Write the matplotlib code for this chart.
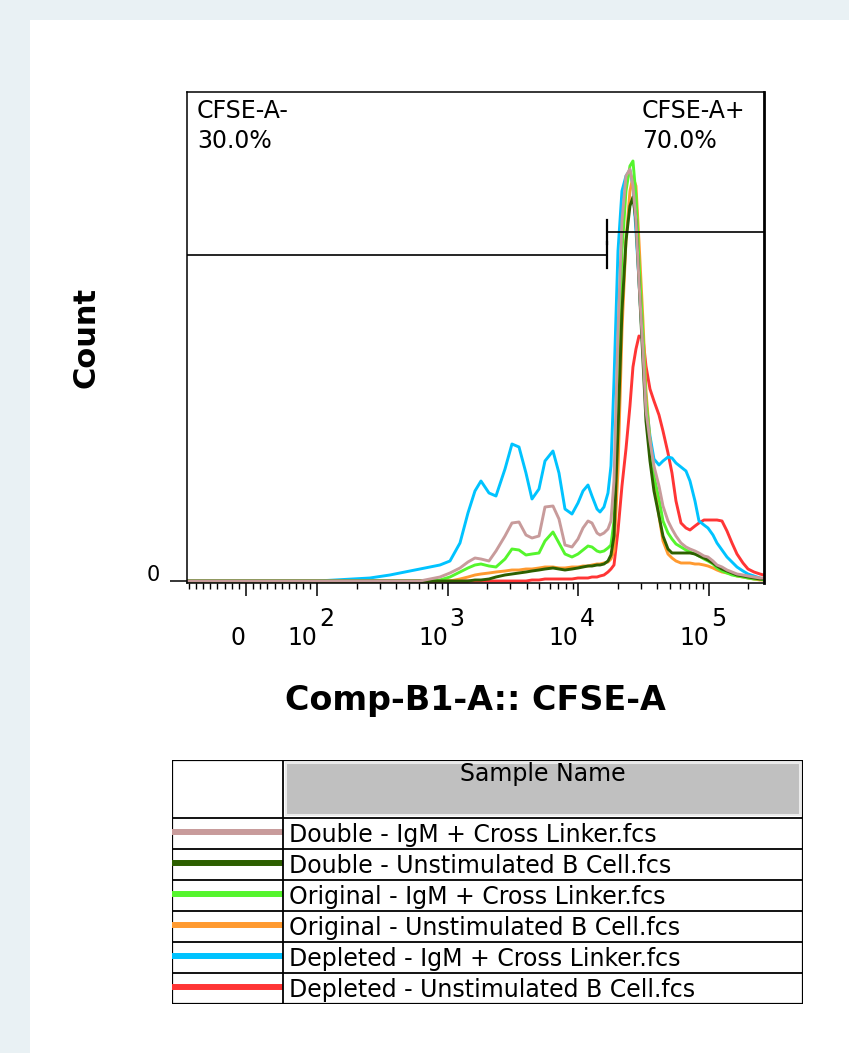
import numpy as np
import matplotlib.pyplot as plt
from matplotlib.patches import Rectangle
from matplotlib.transforms import blended_transform_factory

plt.rcParams['font.family'] = ['DejaVu Sans']

# CFSE-A channel values (bin centres) shared by all histograms
cfse = [-82.5, 0, 100, 252, 359, 511, 610, 728, 868, 1036, 1236, 1423, 1610, 1790,
        2062, 2333, 2735, 3093, 3501, 3960, 4403, 4982, 5538, 6377, 7089, 7881, 8918,
        9913, 10830, 11830, 12690, 13870, 14620, 15680, 16830, 17740, 18710, 20080,
        21540, 23120, 24800, 26150, 27580, 29080, 31210, 32900, 35310, 37890, 41400,
        44420, 48520, 52060, 55860, 61020, 66660, 71530, 78120, 83830, 91570, 98240,
        107300, 115200, 125800, 137400, 150100, 163900, 182200, 199100, 221200,
        245900, 262144]

double_igm = [0, 0, 0, 0, 0, 0, 0, 2, 4, 8, 13, 19, 23, 22, 20, 30, 45, 58, 59, 46,
              43, 45, 74, 75, 62, 36, 34, 42, 53, 60, 58, 48, 46, 48, 52, 60, 100, 250,
              360, 405, 412, 395, 360, 300, 230, 170, 140, 115, 95, 75, 60, 52, 45, 38,
              34, 32, 30, 28, 25, 24, 20, 16, 14, 11, 9, 7, 6, 5, 4, 3, 3]
double_unstim = [0, 0, 0, 0, 0, 0, 0, 0, 0, 0, 0, 0, 1, 1, 2, 4, 6, 7, 8, 9, 10, 11,
                 12, 13, 12, 11, 12, 13, 14, 15, 15, 16, 16, 17, 20, 26, 45, 150, 270,
                 340, 375, 384, 360, 300, 220, 160, 120, 90, 65, 45, 32, 28, 28, 28, 28,
                 28, 27, 25, 23, 21, 18, 15, 12, 10, 8, 6, 5, 4, 3, 2, 2]
original_igm = [0, 0, 0, 0, 0, 0, 0, 0, 1, 4, 9, 13, 16, 17, 15, 14, 22, 32, 31, 26,
                27, 28, 40, 49, 38, 27, 24, 27, 31, 35, 34, 30, 29, 30, 33, 36, 60, 200,
                330, 390, 415, 420, 385, 320, 245, 180, 140, 105, 82, 60, 48, 42, 37, 34,
                31, 29, 27, 25, 22, 20, 17, 13, 10, 8, 6, 5, 4, 3, 2, 2, 1]
original_unstim = [0, 0, 0, 0, 0, 0, 0, 0, 0, 0, 2, 4, 6, 7, 8, 9, 10, 11, 11, 12, 12,
                   13, 14, 14, 13, 13, 14, 14, 15, 15, 16, 17, 17, 18, 19, 22, 30, 110,
                   250, 340, 390, 404, 395, 340, 260, 190, 140, 100, 65, 40, 27, 23, 20,
                   18, 18, 18, 17, 17, 16, 15, 13, 11, 9, 8, 7, 5, 4, 3, 2, 1, 1]
depleted_igm = [0, 0, 0, 3, 6, 10, 12, 14, 16, 20, 38, 68, 90, 100, 88, 85, 112, 137,
                134, 108, 82, 92, 120, 130, 108, 72, 67, 78, 90, 96, 85, 72, 69, 74, 88,
                115, 200, 330, 390, 405, 411, 395, 350, 300, 230, 180, 145, 122, 116,
                120, 124, 123, 118, 114, 110, 100, 80, 60, 56, 53, 46, 38, 31, 24, 19,
                14, 10, 7, 5, 3, 2]
depleted_unstim = [0, 0, 0, 0, 0, 0, 0, 0, 0, 0, 0, 0, 0, 0, 0, 0, 0, 0, 0, 0, 1, 1, 2,
                   2, 2, 2, 2, 3, 3, 3, 4, 4, 5, 6, 9, 12, 16, 50, 95, 132, 175, 214,
                   232, 245, 243, 215, 192, 180, 166, 150, 128, 108, 80, 58, 53, 51, 55,
                   58, 61, 61, 61, 61, 60, 50, 38, 27, 18, 12, 9, 7, 6]

samples = ["Double - IgM + Cross Linker.fcs", "Double - Unstimulated B Cell.fcs",
           "Original - IgM + Cross Linker.fcs", "Original - Unstimulated B Cell.fcs",
           "Depleted - IgM + Cross Linker.fcs", "Depleted - Unstimulated B Cell.fcs"]
series = [double_igm, double_unstim, original_igm, original_unstim,
          depleted_igm, depleted_unstim]
colors = ['#c89b9b', '#2d5f00', '#55f52d', '#ff9a30', '#00c3ff', '#ff3535']

# gates
gate_split = 16540
neg_level, pos_level = 326, 349
neg_label, neg_pct = "CFSE-A-", "30.0%"
pos_label, pos_pct = "CFSE-A+", "70.0%"

x_min, x_max = -82.5, 262144

W, H = 849, 1053
fig = plt.figure(figsize=(W / 100, H / 100), dpi=100, facecolor='#e9f1f4')
fig.patches.append(Rectangle((30 / W, 0), 1, 1 - 20 / H, transform=fig.transFigure,
                             facecolor='white', edgecolor='none', zorder=-10))

ax = fig.add_axes([187 / W, 1 - 583 / H, 576.6 / W, 491 / H])
ax.set_xscale('symlog', linthresh=100, linscale=0.493)
ax.set_xlim(x_min, x_max)
ax.set_ylim(-2, 489)

for y, c in reversed(list(zip(series, colors))):
    ax.plot(cfse, y, color=c, lw=2.1)

# gate bars
ax.plot([x_min, gate_split], [neg_level, neg_level], color='black', lw=1.2, zorder=5)
ax.plot([gate_split, gate_split], [neg_level - 13, neg_level + 13], color='black', lw=1.6, zorder=5)
ax.plot([gate_split, x_max], [pos_level, pos_level], color='black', lw=1.2, zorder=5)
ax.plot([gate_split, gate_split], [pos_level - 12, pos_level + 12], color='black', lw=1.6, zorder=5)

ax.text(0.017, 0.947, neg_label, transform=ax.transAxes, fontsize=17, va='baseline')
ax.text(0.017, 0.886, neg_pct, transform=ax.transAxes, fontsize=17, va='baseline')
ax.text(0.789, 0.947, pos_label, transform=ax.transAxes, fontsize=17, va='baseline')
ax.text(0.789, 0.886, pos_pct, transform=ax.transAxes, fontsize=17, va='baseline')

# axes styling
for s in ax.spines.values():
    s.set_linewidth(1.1)
ax.spines['right'].set_linewidth(2.0)

major = [0, 1e2, 1e3, 1e4, 1e5]
ax.set_xticks(major, labels=['0', '10', '10', '10', '10'])
minor = [-m for m in range(10, 90, 10)] + list(range(10, 100, 10))
for dec in [1e2, 1e3, 1e4]:
    minor += [k * dec for k in range(2, 10)]
minor += [2e5]
ax.set_xticks(minor, minor=True)
ax.tick_params(axis='x', which='major', length=9.4, width=1.1, pad=35.3, labelsize=17)
ax.tick_params(axis='x', which='minor', length=4.3, width=1.0)
for lbl in ax.get_xticklabels():
    lbl.set_ha('right')
    lbl.set_va('baseline')

trans = blended_transform_factory(ax.transData, ax.transAxes)
for v, e in zip(major[1:], ['2', '3', '4', '5']):
    ax.text(v * 1.03, -0.0876, e, transform=trans, fontsize=17, ha='left', va='baseline')

ax.set_yticks([0], labels=['0'])
ax.tick_params(axis='y', length=12.2, width=1.1, pad=7, labelsize=15)
for lbl in ax.get_yticklabels():
    lbl.set_va('baseline')

ax.set_xlabel('Comp-B1-A:: CFSE-A', fontsize=24, fontweight='bold')
ax.xaxis.set_label_coords(0.5, -0.205)
ax.set_ylabel('Count', fontsize=22, fontweight='bold')
ax.yaxis.set_label_coords(-0.15, 0.5)

# legend table
tax = fig.add_axes([172 / W, 1 - 1004 / H, 631 / W, 244 / H])
tax.set_xlim(0, 631)
tax.set_ylim(244, 0)
tax.axis('off')
tax.add_patch(Rectangle((114, 3), 514, 52, facecolor='#c0c0c0', edgecolor='#ebebeb', lw=1.5))
tax.text(371, 14, 'Sample Name', fontsize=17, ha='center', va='center')
row_h = 31
for i, (name, c) in enumerate(zip(samples, colors)):
    top = 58 + i * row_h
    tax.plot([0, 111], [top + 14, top + 14], color=c, lw=4.3, solid_capstyle='butt')
    tax.text(117, top + 17, name, fontsize=17, va='center')
for yy in [58 + i * row_h for i in range(6)]:
    tax.plot([0, 631], [yy, yy], color='black', lw=1.3)
tax.add_patch(Rectangle((0, 0), 631, 244, facecolor='none', edgecolor='black', lw=1.6))
tax.plot([111, 111], [0, 244], color='black', lw=1.3)

fig.savefig('out.png', dpi=100, facecolor=fig.get_facecolor())
